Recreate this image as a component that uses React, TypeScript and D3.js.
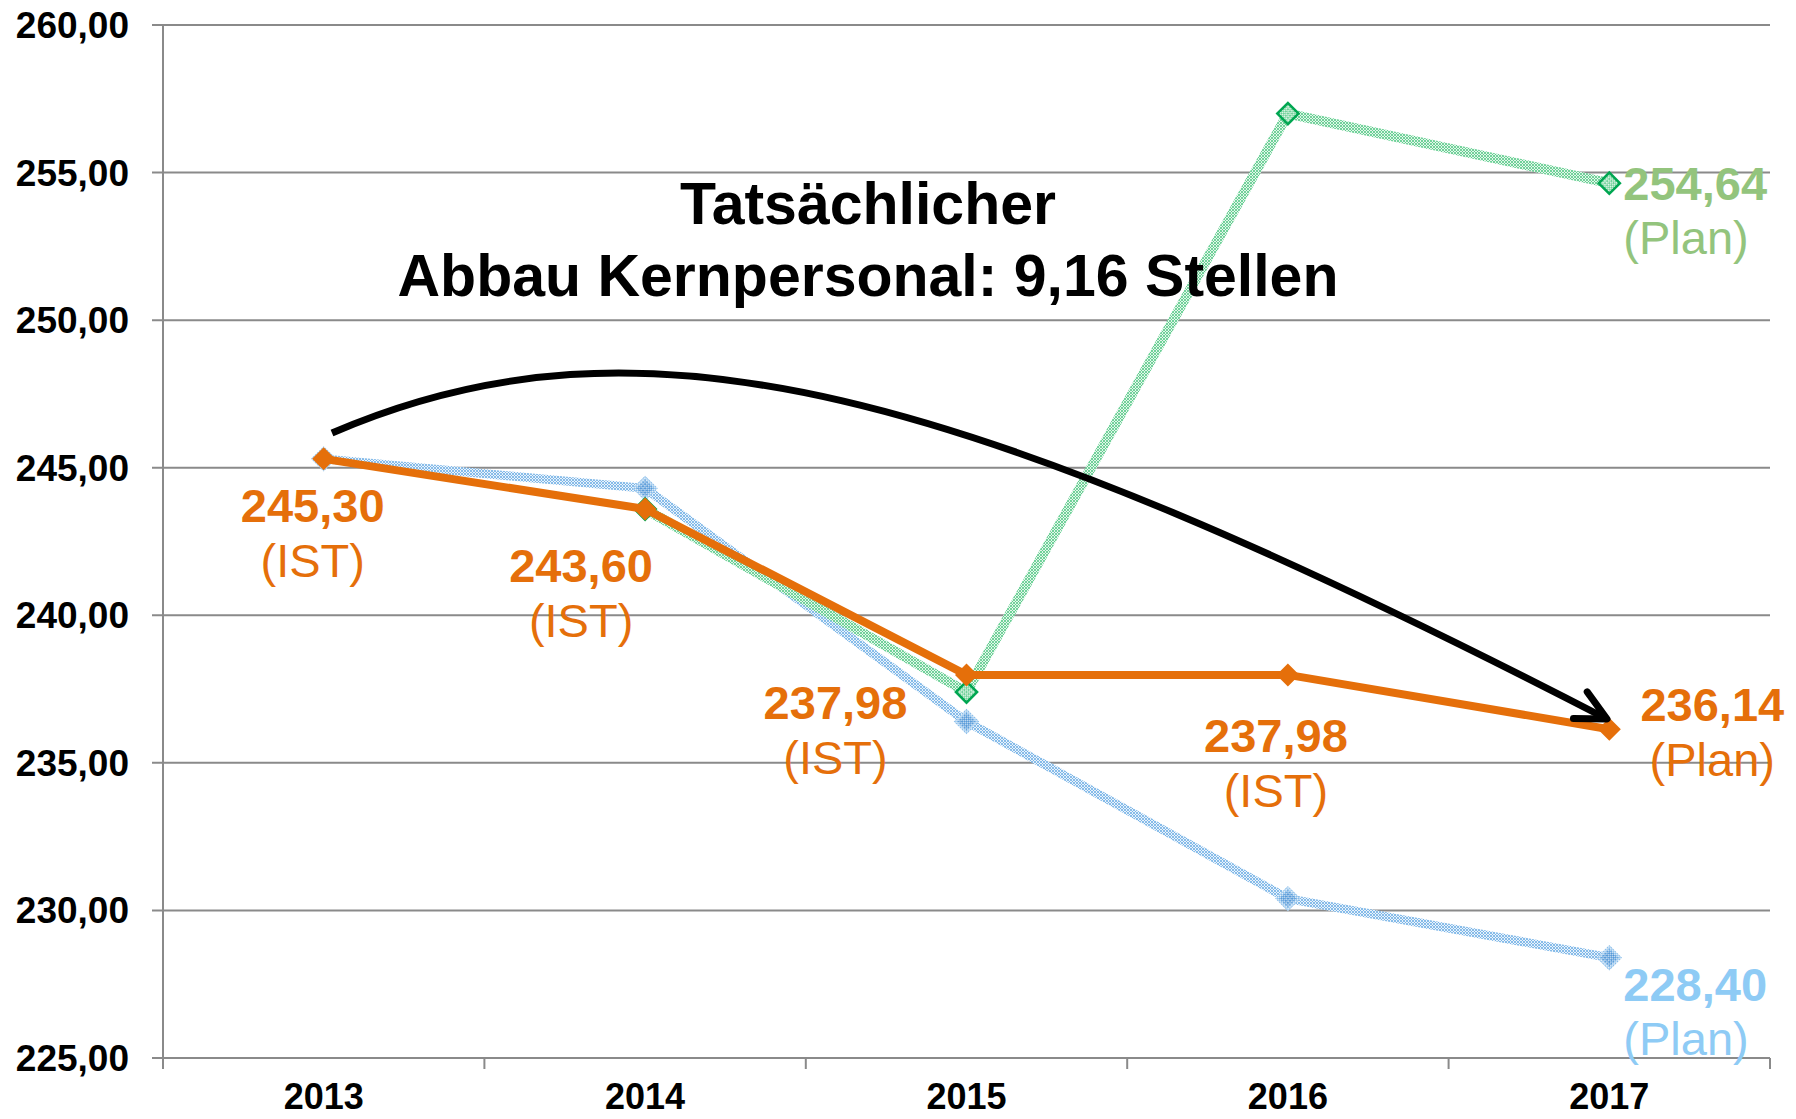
import { useEffect, useRef } from "react";
import * as d3 from "d3";

const years = ["2013", "2014", "2015", "2016", "2017"];
const istValues = [245.3, 243.6, 237.98, 237.98, 236.14];
const istNotes = ["(IST)", "(IST)", "(IST)", "(IST)", "(Plan)"];
const greenPlan: (number | null)[] = [null, 243.6, 237.4, 257.0, 254.64];
const bluePlan = [245.3, 244.3, 236.4, 230.4, 228.4];
const yTicks = [225, 230, 235, 240, 245, 250, 255, 260];
const titleLines = ["Tatsächlicher", "Abbau Kernpersonal: 9,16 Stellen"];

// where the orange labels sit relative to their marker
const istLabelPos = [
  { dx: -11, dy: 63 },
  { dx: -64, dy: 73 },
  { dx: -131, dy: 44 },
  { dx: -12, dy: 77 },
  { dx: 103, dy: -8 },
];

const ORANGE = "#E56F0A";
const FONT = "'Liberation Sans', Arial, sans-serif";
const de = d3.formatLocale({ decimal: ",", thousands: ".", grouping: [3], currency: ["", " €"] });
const fmt = de.format(".2f");

export default function App() {
  const ref = useRef<SVGSVGElement | null>(null);

  useEffect(() => {
    document.body.style.margin = "0";
    const w = 1796, h = 1119;
    const m = { top: 25, right: 26, bottom: 61, left: 163 };
    const svg = d3.select(ref.current).attr("width", w).attr("height", h);
    svg.selectAll("*").remove();

    const x = d3.scaleBand().domain(years).range([m.left, w - m.right]);
    const cx = (d: string) => (x(d) as number) + x.bandwidth() / 2;
    const y = d3.scaleLinear().domain([225, 260]).range([h - m.bottom, m.top]);

    const defs = svg.append("defs");
    const hatch = (id: string, bg: string, fg: string) => {
      const p = defs.append("pattern").attr("id", id)
        .attr("patternUnits", "userSpaceOnUse").attr("width", 3).attr("height", 3);
      p.append("rect").attr("width", 3).attr("height", 3).attr("fill", bg);
      p.append("path").attr("d", "M0,0L3,3M3,0L0,3").attr("stroke", fg).attr("stroke-width", 0.8);
    };
    hatch("hGreen", "#e2f6e9", "#55c987");
    hatch("hBlue", "#e8f2fb", "#6eaee4");
    hatch("hBlueDark", "#c4dcf2", "#3d8ad3");

    defs.append("marker").attr("id", "arrowHead")
      .attr("markerUnits", "userSpaceOnUse").attr("viewBox", "-40 -22 48 44")
      .attr("refX", 0).attr("refY", 0).attr("markerWidth", 48).attr("markerHeight", 44)
      .attr("orient", "auto")
      .append("path").attr("d", "M-30,-15L0,0L-30,15")
      .attr("fill", "none").attr("stroke", "#000").attr("stroke-width", 7)
      .attr("stroke-linecap", "round").attr("stroke-linejoin", "round");

    // gridlines
    svg.append("g").selectAll("line").data(yTicks).join("line")
      .attr("x1", m.left - 11).attr("x2", w - m.right)
      .attr("y1", (d) => y(d)).attr("y2", (d) => y(d))
      .attr("stroke", "#8a8a8a").attr("stroke-width", 2);

    svg.append("line").attr("x1", m.left).attr("x2", m.left)
      .attr("y1", y(260)).attr("y2", y(225))
      .attr("stroke", "#8a8a8a").attr("stroke-width", 2);

    const bounds = years.map((d) => x(d) as number).concat([w - m.right]);
    svg.append("g").selectAll("line").data(bounds).join("line")
      .attr("x1", (d) => d).attr("x2", (d) => d)
      .attr("y1", y(225)).attr("y2", y(225) + 11)
      .attr("stroke", "#8a8a8a").attr("stroke-width", 2);

    svg.append("g").selectAll("text").data(yTicks).join("text")
      .attr("x", 129).attr("y", (d) => y(d) + 13)
      .attr("text-anchor", "end").attr("font-family", FONT)
      .attr("font-weight", "bold").attr("font-size", 37)
      .text((d) => fmt(d));

    svg.append("g").selectAll("text").data(years).join("text")
      .attr("x", (d) => cx(d)).attr("y", 1109)
      .attr("text-anchor", "middle").attr("font-family", FONT)
      .attr("font-weight", "bold").attr("font-size", 36)
      .text((d) => d);

    const line = d3.line<number | null>()
      .defined((d) => d != null)
      .x((_, i) => cx(years[i]))
      .y((d) => y(d as number));

    const diamond = d3.symbol(d3.symbolSquare, 225);

    // blue plan
    svg.append("path").datum(bluePlan).attr("d", line as any)
      .attr("fill", "none").attr("stroke", "url(#hBlue)").attr("stroke-width", 9)
      .attr("stroke-linejoin", "round");
    svg.append("g").selectAll("path").data(bluePlan).join("path")
      .attr("d", diamond)
      .attr("transform", (d, i) => `translate(${cx(years[i])},${y(d)}) rotate(45)`)
      .attr("fill", "url(#hBlueDark)").attr("stroke", "url(#hBlue)").attr("stroke-width", 3);

    // green plan
    svg.append("path").datum(greenPlan).attr("d", line as any)
      .attr("fill", "none").attr("stroke", "url(#hGreen)").attr("stroke-width", 10)
      .attr("stroke-linejoin", "round");
    svg.append("g").selectAll("path")
      .data(greenPlan.map((v, i) => ({ v, i })).filter((d) => d.v != null)).join("path")
      .attr("d", diamond)
      .attr("transform", (d) => `translate(${cx(years[d.i])},${y(d.v as number)}) rotate(45)`)
      .attr("fill", "url(#hGreen)").attr("stroke", "#00a651").attr("stroke-width", 2.5);

    // actual
    svg.append("path").datum(istValues).attr("d", line as any)
      .attr("fill", "none").attr("stroke", ORANGE).attr("stroke-width", 8)
      .attr("stroke-linejoin", "round");
    svg.append("g").selectAll("path").data(istValues).join("path")
      .attr("d", d3.symbol(d3.symbolSquare, 265))
      .attr("transform", (d, i) => `translate(${cx(years[i])},${y(d)}) rotate(45)`)
      .attr("fill", ORANGE);

    // orange labels
    const lab = svg.append("g").attr("font-family", FONT).attr("text-anchor", "middle")
      .attr("fill", ORANGE).attr("font-size", 47);
    istValues.forEach((v, i) => {
      const px = cx(years[i]) + istLabelPos[i].dx;
      const py = y(v) + istLabelPos[i].dy;
      lab.append("text").attr("x", px).attr("y", py).attr("font-weight", "bold").text(fmt(v));
      lab.append("text").attr("x", px).attr("y", py + 55).text(istNotes[i]);
    });

    // end labels of the plan lines
    const ends = [
      { v: greenPlan[4] as number, dy: 17, color: "#93c47d" },
      { v: bluePlan[4], dy: 43, color: "#8ecbf5" },
    ];
    ends.forEach((e) => {
      const px = cx(years[4]) + 14;
      const py = y(e.v) + e.dy;
      const g = svg.append("g").attr("font-family", FONT).attr("font-size", 47).attr("fill", e.color);
      g.append("text").attr("x", px).attr("y", py).attr("font-weight", "bold").text(fmt(e.v));
      g.append("text").attr("x", px).attr("y", py + 54).text("(Plan)");
    });

    // title
    svg.append("g").selectAll("text").data(titleLines).join("text")
      .attr("x", 868).attr("y", (_, i) => 224 + i * 72)
      .attr("text-anchor", "middle").attr("font-family", FONT)
      .attr("font-weight", "bold").attr("font-size", 59)
      .text((d) => d);

    // curved arrow
    svg.append("path")
      .attr("d", "M332,433 C640,300 960,385 1607,719")
      .attr("fill", "none").attr("stroke", "#000").attr("stroke-width", 7)
      .attr("marker-end", "url(#arrowHead)");
  }, []);

  return <svg ref={ref} style={{ display: "block" }} />;
}
